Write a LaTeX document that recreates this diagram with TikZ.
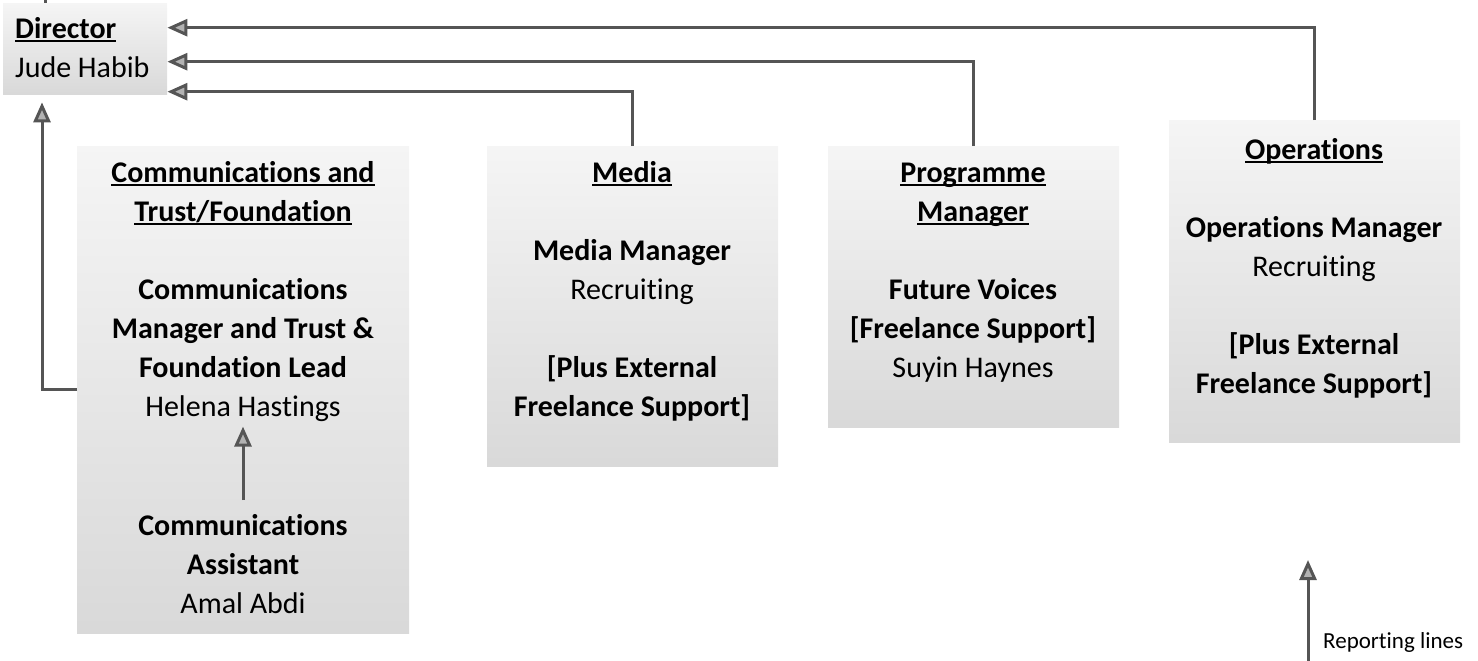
\documentclass[tikz,border=0pt]{standalone}
\usepackage{fontspec}
\setmainfont{Carlito}[Ligatures=NoCommon]
\usetikzlibrary{positioning, arrows.meta}
\definecolor{linegray}{HTML}{555555}
\newcommand{\headline}[1]{\setbox0\hbox{\textbf{#1}}\rlap{\rule[-3.6pt]{\wd0}{1.8pt}}\box0}

\begin{document}
\begin{tikzpicture}[x=1pt, y=-1pt,
    unitbox/.style={top color=gray!8, bottom color=gray!30, inner sep=0pt, anchor=north west},
    role/.style={align=center, inner sep=0pt, anchor=north, font=\fontsize{30}{39}\selectfont},
    reports/.style={draw=linegray, line width=3pt, -{Triangle[length=20pt, width=17pt, fill=gray!60, line width=3pt]}}
]
\useasboundingbox (0,0) rectangle (1478,661);

% Boxes
\node[unitbox, minimum width=164pt, minimum height=91pt] (director) at (3,3) {};
\node[unitbox, minimum width=332pt, minimum height=487pt] (comms) at (77,146) {};
\node[unitbox, minimum width=291pt, minimum height=320pt] (media) at (487,146) {};
\node[unitbox, minimum width=291pt, minimum height=281pt] (prog) at (828,146) {};
\node[unitbox, minimum width=291pt, minimum height=322pt] (ops) at (1169,120) {};

% Texts
\node[role, align=left, anchor=north west] (directortext) at (15,17)
    {\headline{Director}\\Jude Habib};
\node[role] (commsteam) at (243,161)
    {\headline{Communications and}\\\headline{Trust/Foundation}\\[39pt]
     \textbf{Communications}\\\textbf{Manager and Trust \&}\\\textbf{Foundation Lead}\\Helena Hastings};
\node[role] (assistant) at (243,514)
    {\textbf{Communications}\\\textbf{Assistant}\\Amal Abdi};
\node[role] (mediatext) at (632,161)
    {\headline{Media}\\[39pt]\textbf{Media Manager}\\Recruiting\\[39pt]
     \textbf{[Plus External}\\\textbf{Freelance Support]}};
\node[role] (progtext) at (973,163)
    {\headline{Programme}\\\headline{Manager}\\[39pt]
     \textbf{Future Voices}\\\textbf{[Freelance Support]}\\Suyin Haynes};
\node[role] (opstext) at (1314,138)
    {\headline{Operations}\\[39pt]\textbf{Operations Manager}\\Recruiting\\[39pt]
     \textbf{[Plus External}\\\textbf{Freelance Support]}};

% Reporting lines
\coordinate (boardstub) at (45,0);
\draw[draw=linegray, line width=3pt] (director.north -| boardstub) -- (boardstub);
\draw[reports] (ops.north) |- ([yshift=21pt]director.east);
\draw[reports] (prog.north) |- ([yshift=-13pt]director.east);
\draw[reports] (media.north) |- ([yshift=-43pt]director.east);
\draw[reports, shorten >=8pt] (comms.west) -| ([xshift=39pt]director.south west);
\draw[reports, shorten <=14pt, shorten >=5pt] (assistant.north) -- (commsteam.south);

% Legend
\coordinate (legendfoot) at (1308,661);
\coordinate (legendtip) at (1308,560);
\draw[reports] (legendfoot) -- (legendtip);
\node[anchor=base west, inner sep=0pt, font=\fontsize{23}{28}\selectfont] (legendtext) at (1323,648) {Reporting lines};

\end{tikzpicture}
\end{document}
